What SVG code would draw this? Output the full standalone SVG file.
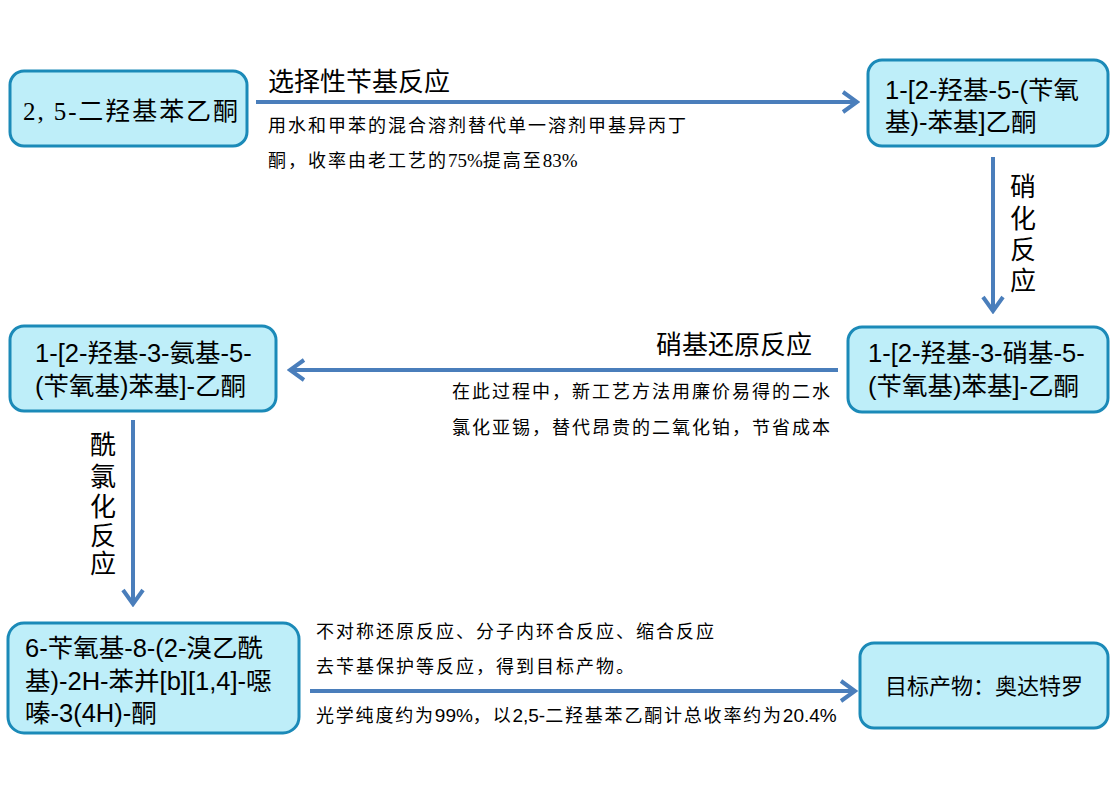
<svg xmlns="http://www.w3.org/2000/svg" width="1117" height="791" viewBox="0 0 1117 791">
<style>
.box{fill:#BEEEF9;stroke:#1B8AB8;stroke-width:3}
.sans{font-family:"Liberation Sans","Noto Sans CJK SC",sans-serif;fill:#000}
.serif{font-family:"Liberation Serif","Noto Sans CJK SC",serif;fill:#000}
.conn{stroke:#4A7EBB;stroke-width:4;fill:none}
.lbl{font-size:26px}
.sub{font-size:18px;letter-spacing:2px}
.num{letter-spacing:0;font-size:19px}
.node{font-size:25.5px}
</style>
<defs>
<marker id="ah" viewBox="0 0 20 24" markerWidth="20" markerHeight="24" refX="17" refY="12" orient="auto" markerUnits="userSpaceOnUse">
<path d="M3,2 L17,12 L3,22" fill="none" stroke="#4A7EBB" stroke-width="4"/>
</marker>
</defs>
<rect width="1117" height="791" fill="#fff"/>
<g id="connectors">
<line class="conn" x1="256" y1="102" x2="857" y2="102" marker-end="url(#ah)"/>
<line class="conn" x1="993" y1="157" x2="993" y2="311" marker-end="url(#ah)"/>
<line class="conn" x1="838" y1="370" x2="290" y2="370" marker-end="url(#ah)"/>
<line class="conn" x1="133" y1="420" x2="133" y2="604" marker-end="url(#ah)"/>
<line class="conn" x1="310" y1="691" x2="855" y2="691" marker-end="url(#ah)"/>
<text class="serif lbl" x="268" y="91">选择性苄基反应</text>
<text class="serif sub" x="268" y="132">用水和甲苯的混合溶剂替代单一溶剂甲基异丙丁</text>
<text class="serif sub" x="268" y="167">酮，收率由老工艺的<tspan class="num">75%</tspan>提高至<tspan class="num">83%</tspan></text>
<text class="serif lbl" text-anchor="middle"><tspan x="1023" y="196">硝</tspan><tspan x="1023" y="228">化</tspan><tspan x="1023" y="259">反</tspan><tspan x="1023" y="290">应</tspan></text>
<text class="serif lbl" x="812" y="354" text-anchor="end">硝基还原反应</text>
<text class="serif sub" x="452" y="398">在此过程中，新工艺方法用廉价易得的二水</text>
<text class="serif sub" x="452" y="434">氯化亚锡，替代昂贵的二氧化铂，节省成本</text>
<text class="serif lbl" text-anchor="middle"><tspan x="103" y="454">酰</tspan><tspan x="103" y="486">氯</tspan><tspan x="103" y="516">化</tspan><tspan x="103" y="545">反</tspan><tspan x="103" y="573">应</tspan></text>
<text class="serif sub" x="316" y="638">不对称还原反应、分子内环合反应、缩合反应</text>
<text class="serif sub" x="316" y="673">去苄基保护等反应，得到目标产物。</text>
<text class="serif sub" x="316" y="722" style="letter-spacing:1.8px">光学纯度约为<tspan class="sans num">99%</tspan>，以<tspan class="sans num">2,5-</tspan>二羟基苯乙酮计总收率约为<tspan class="sans num">20.4%</tspan></text>
</g>
<g id="n1">
<rect class="box" x="10" y="71" width="237" height="75" rx="14"/>
<text class="serif" font-size="25" x="23" y="120" textLength="215" lengthAdjust="spacing">2, 5-二羟基苯乙酮</text>
</g>
<g id="n2">
<rect class="box" x="868" y="60" width="240" height="86" rx="14"/>
<text class="sans node" x="885" y="99">1-[2-羟基-5-(苄氧</text>
<text class="sans node" x="885" y="131">基)-苯基]乙酮</text>
</g>
<g id="n3">
<rect class="box" x="848" y="327" width="260" height="85" rx="14"/>
<text class="sans node" x="868" y="362">1-[2-羟基-3-硝基-5-</text>
<text class="sans node" x="868" y="395">(苄氧基)苯基]-乙酮</text>
</g>
<g id="n4">
<rect class="box" x="10" y="326" width="266" height="85" rx="14"/>
<text class="sans node" x="35" y="362">1-[2-羟基-3-氨基-5-</text>
<text class="sans node" x="35" y="395">(苄氧基)苯基]-乙酮</text>
</g>
<g id="n5">
<rect class="box" x="8" y="623" width="291" height="110" rx="16"/>
<text class="sans node" x="25" y="657">6-苄氧基-8-(2-溴乙酰</text>
<text class="sans node" x="25" y="690">基)-2H-苯并[b][1,4]-噁</text>
<text class="sans node" x="25" y="722">嗪-3(4H)-酮</text>
</g>
<g id="n6">
<rect class="box" x="860" y="643" width="248" height="85" rx="14"/>
<text class="serif" font-size="22" x="984" y="694" text-anchor="middle">目标产物：奥达特罗</text>
</g>
</svg>
